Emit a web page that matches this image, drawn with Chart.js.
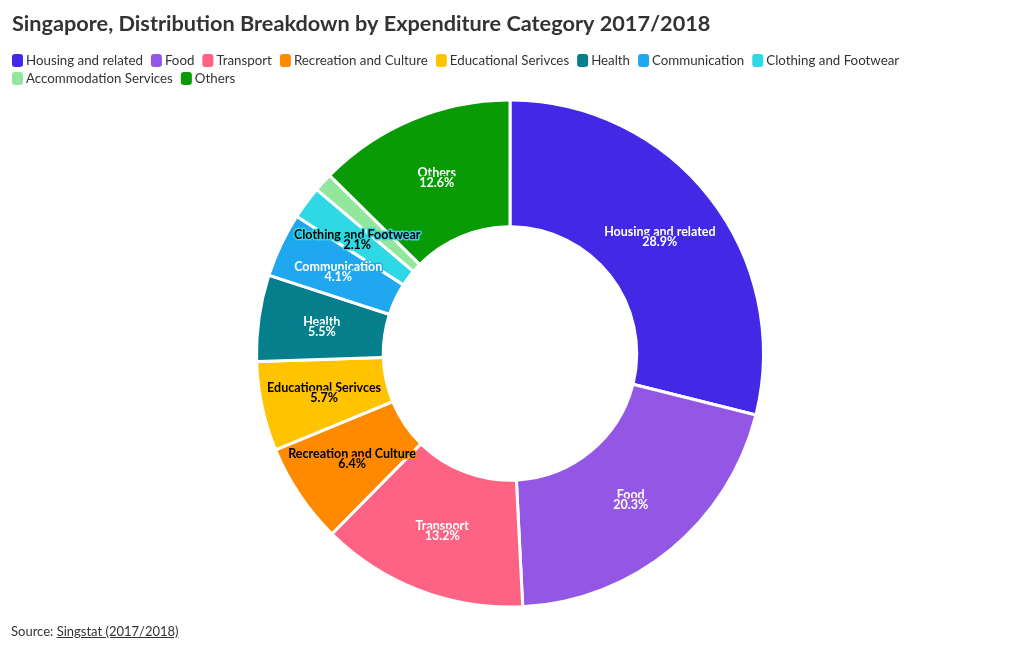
<!DOCTYPE html>
<html>
<head>
<meta charset="utf-8">
<script src="https://cdn.jsdelivr.net/npm/chart.js@4"></script>
<style>
html,body{margin:0;padding:0;background:#fff;}
#wrap{position:relative;width:1020px;height:650px;}
#source{position:absolute;left:11px;top:623px;font:13px Lato, "Open Sans", sans-serif;color:#333;}
#source span{text-decoration:underline;}
</style>
</head>
<body>
<div id="wrap">
<canvas id="c" width="1020" height="650"></canvas>
<div id="source">Source: <span>Singstat (2017/2018)</span></div>
</div>
<script>
const categories = ["Housing and related","Food","Transport","Recreation and Culture","Educational Serivces","Health","Communication","Clothing and Footwear","Accommodation Services","Others"];
const shares = [28.9,20.3,13.2,6.4,5.7,5.5,4.1,2.1,1.2,12.6];
const colors = ["#4328e6","#9457e5","#fe6384","#ff8a00","#ffc300","#067f8d","#1fa8ef","#2ed8e4","#92e79d","#089b06"];
const labelColors = ["#fff","#fff","#fff","#000","#000","#fff","#fff","#000",null,"#fff"];
const showLabel = [true,true,true,true,true,true,true,true,false,true];

const FONT = 'Lato, "Open Sans", sans-serif';

const sliceLabels = {
  id:'sliceLabels',
  afterDatasetsDraw(chart){
    const ctx = chart.ctx;
    const meta = chart.getDatasetMeta(0);
    meta.data.forEach((arc,i)=>{
      if(!showLabel[i]) return;
      const p = arc.getCenterPoint();
      ctx.save();
      ctx.font = 'bold 12.5px ' + FONT;
      ctx.textAlign='center';
      ctx.textBaseline='middle';
      ctx.lineJoin='round';
      ctx.lineWidth=3;
      ctx.strokeStyle=colors[i];
      const lines=[categories[i], shares[i].toFixed(1)+'%'];
      lines.forEach((t,k)=>{
        const y=p.y-5+k*10;
        ctx.strokeText(t,p.x,y);
        ctx.fillStyle=labelColors[i];
        ctx.fillText(t,p.x,y);
      });
      ctx.restore();
    });
  }
};

const topLegend = {
  id:'topLegend',
  afterDraw(chart){
    const ctx = chart.ctx;
    ctx.save();
    ctx.font = '13.3px ' + FONT;
    ctx.textBaseline='middle';
    ctx.textAlign='left';
    let x = 12, y = 60;
    categories.forEach((c,i)=>{
      const w = 11 + 3 + ctx.measureText(c).width;
      if (x + w > 1005) { x = 12; y += 18; }
      ctx.fillStyle = colors[i];
      ctx.beginPath();
      ctx.roundRect(x, y-6, 11, 13, 3);
      ctx.fill();
      ctx.fillStyle = '#333';
      ctx.fillText(c, x + 14, y + 1);
      x += w + 8;
    });
    ctx.restore();
  }
};

new Chart(document.getElementById('c'),{
  type:'doughnut',
  data:{labels:categories,datasets:[{data:shares,backgroundColor:colors,borderColor:'#fff',borderWidth:3,borderRadius:2,hoverOffset:0}]},
  options:{
    responsive:false,animation:false,cutout:'50%',
    layout:{padding:{left:12,right:12,top:4,bottom:41.5}},
    plugins:{
      title:{display:true,text:'Singapore, Distribution Breakdown by Expenditure Category 2017/2018',align:'start',color:'#333',font:{family:FONT,size:21.7,weight:'bold'},padding:{top:7,bottom:61.5}},
      legend:{display:false},
      tooltip:{enabled:false}
    }
  },
  plugins:[sliceLabels, topLegend]
});
</script>
</body>
</html>
